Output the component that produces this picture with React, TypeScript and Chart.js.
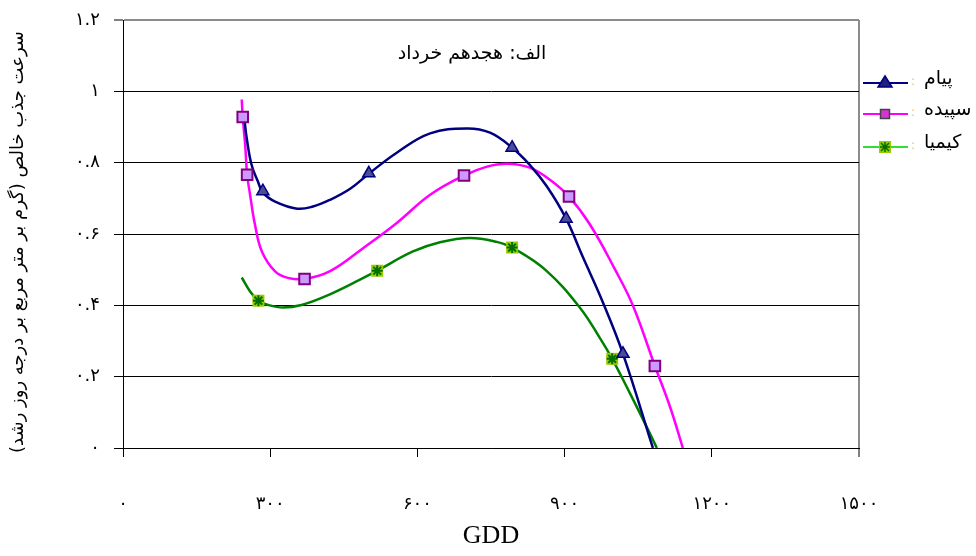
import React, { useEffect, useRef } from 'react';
import { Chart, registerables } from 'chart.js';

Chart.register(...registerables);

// ---- text ----
const chartTitle = 'الف: هجدهم خرداد';
const yAxisTitle = 'سرعت جذب خالص (گرم بر متر مربع بر درجه روز رشد)';
const xAxisTitle = 'GDD';
const seriesNames = ['پیام', 'سپیده', 'کیمیا'];
const xTickLabels = ['۰', '۳۰۰', '۶۰۰', '۹۰۰', '۱۲۰۰', '۱۵۰۰'];
const yTickLabels = ['۰', '۰.۲', '۰.۴', '۰.۶', '۰.۸', '۱', '۱.۲'];

// ---- observed points (markers) ----
const payamGdd = [285, 501, 793, 903, 1019];
const payamRate = [0.72, 0.77, 0.842, 0.643, 0.264];
const sepidehGdd = [244, 253, 370, 695, 909, 1084];
const sepidehRate = [0.928, 0.766, 0.474, 0.764, 0.705, 0.23];
const kimiaGdd = [276, 518, 793, 997];
const kimiaRate = [0.413, 0.497, 0.562, 0.25];

// ---- trend curves ----
const payamTrendGdd = [248, 252, 262, 275, 285, 310, 355, 387, 422, 463, 501, 558, 626, 701, 748, 793, 829, 864, 903, 937, 976, 1019, 1080];
const payamTrendRate = [0.915, 0.87, 0.794, 0.747, 0.716, 0.691, 0.671, 0.677, 0.696, 0.727, 0.769, 0.828, 0.882, 0.896, 0.884, 0.842, 0.794, 0.733, 0.643, 0.536, 0.415, 0.264, 0.0];
const sepidehTrendGdd = [242, 244, 249, 253, 259, 269, 283, 310, 336, 370, 421, 490, 558, 626, 695, 742, 783, 829, 870, 909, 952, 1003, 1040, 1084, 1115, 1141];
const sepidehTrendRate = [0.977, 0.928, 0.85, 0.766, 0.71, 0.626, 0.551, 0.495, 0.477, 0.474, 0.495, 0.561, 0.631, 0.71, 0.764, 0.789, 0.797, 0.786, 0.752, 0.705, 0.626, 0.5, 0.397, 0.23, 0.115, 0.0];
const kimiaTrendGdd = [242, 259, 276, 296, 326, 364, 412, 483, 518, 591, 646, 707, 762, 793, 862, 932, 972, 997, 1033, 1067, 1088];
const kimiaTrendRate = [0.478, 0.439, 0.413, 0.401, 0.394, 0.401, 0.425, 0.472, 0.497, 0.551, 0.577, 0.589, 0.578, 0.562, 0.498, 0.392, 0.308, 0.25, 0.154, 0.06, 0.0];

const toPts = (xs: number[], ys: number[]) => xs.map((x, i) => ({ x, y: ys[i] }));

const PERSIAN = "'DejaVu Sans', sans-serif";

const overlayPlugin = {
  id: 'overlay',
  afterDraw(chart: any) {
    const ctx: CanvasRenderingContext2D = chart.ctx;
    const area = chart.chartArea;
    ctx.save();
    ctx.fillStyle = '#000';
    ctx.textBaseline = 'middle';

    // in-plot title
    ctx.font = `19px ${PERSIAN}`;
    ctx.textAlign = 'center';
    ctx.fillText('\u200F' + chartTitle + '\u200F', 472, 54);

    // y-axis title (rotated)
    ctx.save();
    ctx.translate(18, (area.top + area.bottom) / 2 + 8);
    ctx.rotate(-Math.PI / 2);
    ctx.font = `18px ${PERSIAN}`;
    ctx.textAlign = 'center';
    ctx.fillText('\u200F' + yAxisTitle + '\u200F', 0, 0);
    ctx.restore();

    // legend
    const rowsY = [83, 114, 147];
    const x0 = 863, x1 = 908, mx = 885;
    rowsY.forEach((y, i) => {
      ctx.lineWidth = 2;
      ctx.strokeStyle = ['#000080', '#ff00ff', '#33dd33'][i];
      ctx.beginPath();
      ctx.moveTo(x0, y);
      ctx.lineTo(x1, y);
      ctx.stroke();
      if (i === 0) {
        ctx.fillStyle = '#22227a';
        ctx.strokeStyle = '#000080';
        ctx.lineWidth = 1.5;
        ctx.beginPath();
        ctx.moveTo(mx, y - 7);
        ctx.lineTo(mx + 7, y + 4);
        ctx.lineTo(mx - 7, y + 4);
        ctx.closePath();
        ctx.fill();
        ctx.stroke();
      } else if (i === 1) {
        ctx.fillStyle = '#d633d6';
        ctx.strokeStyle = '#444';
        ctx.lineWidth = 1.5;
        ctx.fillRect(mx - 4.5, y - 4.5, 9, 9);
        ctx.strokeRect(mx - 4.5, y - 4.5, 9, 9);
      } else {
        ctx.fillStyle = '#99cc00';
        ctx.fillRect(mx - 6, y - 6, 12, 12);
        ctx.strokeStyle = '#007000';
        ctx.lineWidth = 1.5;
        ctx.beginPath();
        ctx.moveTo(mx - 4, y - 4); ctx.lineTo(mx + 4, y + 4);
        ctx.moveTo(mx + 4, y - 4); ctx.lineTo(mx - 4, y + 4);
        ctx.moveTo(mx, y - 5); ctx.lineTo(mx, y + 5);
        ctx.moveTo(mx - 5, y); ctx.lineTo(mx + 5, y);
        ctx.stroke();
      }
      ctx.fillStyle = '#f2b870';
      ctx.font = `12px ${PERSIAN}`;
      ctx.textAlign = 'center';
      ctx.fillText(':', 913, y - 1);
      ctx.fillStyle = '#000';
      ctx.font = `19px ${PERSIAN}`;
      ctx.textAlign = 'left';
      ctx.fillText(seriesNames[i], 924, y - 4);
    });
    ctx.restore();
  },
};

export default function App() {
  const ref = useRef<HTMLCanvasElement>(null);
  useEffect(() => {
    if (!ref.current) return;
    const trend = { showLine: true, borderWidth: 2.5, pointRadius: 0, tension: 0.4, cubicInterpolationMode: 'default' };
    const chart = new Chart(ref.current, {
      type: 'scatter',
      data: {
        datasets: [
          { label: seriesNames[0], data: toPts(payamGdd, payamRate), pointStyle: 'triangle', pointRadius: 7, pointBackgroundColor: '#4d4d96', pointBorderColor: '#000080', pointBorderWidth: 1.5, showLine: false, order: 0 },
          { label: seriesNames[1], data: toPts(sepidehGdd, sepidehRate), pointStyle: 'rect', pointRadius: 7.5, pointBackgroundColor: '#cc99ff', pointBorderColor: '#800080', pointBorderWidth: 2, showLine: false, order: 1 },
          { label: seriesNames[2], data: toPts(kimiaGdd, kimiaRate), pointStyle: 'star', pointRadius: 5.5, pointBackgroundColor: '#007000', pointBorderColor: '#007000', pointBorderWidth: 2, showLine: false, order: 2 },
          { label: seriesNames[2] + ' bg', data: toPts(kimiaGdd, kimiaRate), pointStyle: 'rect', pointRadius: 8.5, pointBackgroundColor: '#99cc00', pointBorderColor: '#99cc00', pointBorderWidth: 0, showLine: false, order: 3 },
          { label: seriesNames[0] + ' trend', data: toPts(payamTrendGdd, payamTrendRate), borderColor: '#000080', order: 4, ...trend },
          { label: seriesNames[1] + ' trend', data: toPts(sepidehTrendGdd, sepidehTrendRate), borderColor: '#ff00ff', order: 5, ...trend },
          { label: seriesNames[2] + ' trend', data: toPts(kimiaTrendGdd, kimiaTrendRate), borderColor: '#008000', order: 6, ...trend },
        ],
      },
      options: {
        responsive: false,
        animation: false,
        devicePixelRatio: 1,
        layout: { padding: { left: 0, right: 117, top: 20, bottom: 0 } },
        plugins: { legend: { display: false }, tooltip: { enabled: false }, title: { display: false } },
        scales: {
          x: {
            type: 'linear', min: 0, max: 1500,
            afterFit: (s: any) => { s.height = 108; s.paddingLeft = 0; s.paddingRight = 0; },
            ticks: {
              stepSize: 300, autoSkip: false, maxRotation: 0, color: '#000', padding: 37,
              font: { family: PERSIAN, size: 18 },
              callback: (_v: any, i: number) => xTickLabels[i],
            },
            grid: {
              color: (c: any) => (c.tick && c.tick.value === 1500 ? '#8c8c8c' : 'rgba(0,0,0,0)'),
              lineWidth: (c: any) => (c.tick && c.tick.value === 1500 ? 2 : 1),
              tickColor: '#000', tickLength: 9, tickWidth: 1,
            },
            border: { color: '#000', width: 1 },
            title: { display: true, text: xAxisTitle, color: '#000', font: { family: "'Liberation Serif', serif", size: 26 }, padding: { top: 0, bottom: 4 } },
          },
          y: {
            type: 'linear', min: 0, max: 1.2,
            afterFit: (s: any) => { s.width = 123; s.paddingTop = 0; s.paddingBottom = 0; },
            ticks: {
              stepSize: 0.2, autoSkip: false, color: '#000', padding: 14,
              font: { family: PERSIAN, size: 18 },
              callback: (_v: any, i: number) => yTickLabels[i],
            },
            grid: {
              color: (c: any) => (c.tick && c.tick.value > 1.19 ? '#8c8c8c' : '#000'),
              lineWidth: (c: any) => (c.tick && c.tick.value > 1.19 ? 2 : 1),
              tickColor: '#000', tickLength: 9, tickWidth: 1,
            },
            border: { color: '#000', width: 1 },
            title: { display: false },
          },
        },
      },
      plugins: [overlayPlugin],
    } as any);
    return () => chart.destroy();
  }, []);
  return (
    <div style={{ position: 'absolute', left: 0, top: 0, width: 976, height: 556, background: '#fff' }}>
      <canvas ref={ref} width={976} height={556} />
    </div>
  );
}
